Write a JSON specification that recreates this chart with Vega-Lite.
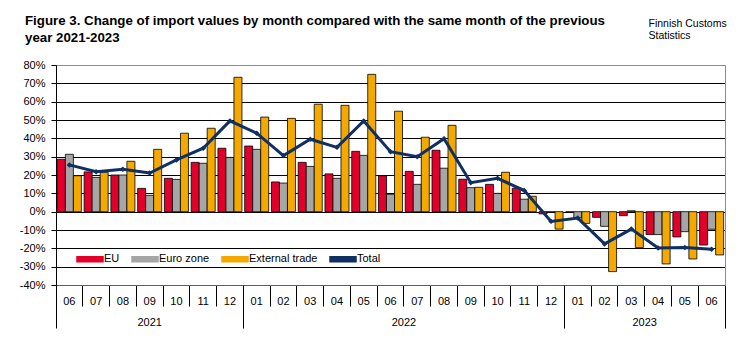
{
  "$schema": "https://vega.github.io/schema/vega-lite/v6.json",
  "width": 669,
  "height": 220,
  "autosize": {"type": "none"},
  "padding": {"left": 56, "top": 65, "right": 31, "bottom": 55},
  "background": "white",
  "title": {
    "text": ["Figure 3. Change of import values by month compared with the same month of the previous", "year 2021-2023"],
    "anchor": "start",
    "frame": "group",
    "dx": -31,
    "dy": 26,
    "offset": 0,
    "font": "Liberation Sans",
    "fontSize": 13.3,
    "fontWeight": "bold",
    "color": "black",
    "lineHeight": 17
  },
  "data": {
    "values": [
      {"m": "2021-06", "EU": 28.6, "Euro zone": 31.3, "External trade": 19.6, "Total": 25.5},
      {"m": "2021-07", "EU": 21.7, "Euro zone": 18.7, "External trade": 21.5, "Total": 21.8},
      {"m": "2021-08", "EU": 20.0, "Euro zone": 20.0, "External trade": 27.5, "Total": 23.1},
      {"m": "2021-09", "EU": 12.7, "Euro zone": 8.9, "External trade": 34.0, "Total": 21.1},
      {"m": "2021-10", "EU": 18.2, "Euro zone": 17.6, "External trade": 42.8, "Total": 28.2},
      {"m": "2021-11", "EU": 26.9, "Euro zone": 26.4, "External trade": 45.5, "Total": 34.6},
      {"m": "2021-12", "EU": 34.6, "Euro zone": 29.6, "External trade": 73.3, "Total": 49.5},
      {"m": "2022-01", "EU": 35.8, "Euro zone": 34.0, "External trade": 51.6, "Total": 42.8},
      {"m": "2022-02", "EU": 16.2, "Euro zone": 15.6, "External trade": 50.9, "Total": 30.6},
      {"m": "2022-03", "EU": 26.9, "Euro zone": 24.7, "External trade": 58.6, "Total": 39.5},
      {"m": "2022-04", "EU": 20.6, "Euro zone": 18.2, "External trade": 58.0, "Total": 35.1},
      {"m": "2022-05", "EU": 32.9, "Euro zone": 30.7, "External trade": 74.9, "Total": 49.5},
      {"m": "2022-06", "EU": 19.6, "Euro zone": 9.5, "External trade": 54.8, "Total": 32.7},
      {"m": "2022-07", "EU": 22.0, "Euro zone": 14.9, "External trade": 40.6, "Total": 30.0},
      {"m": "2022-08", "EU": 33.5, "Euro zone": 23.7, "External trade": 47.1, "Total": 39.8},
      {"m": "2022-09", "EU": 17.7, "Euro zone": 13.1, "External trade": 13.3, "Total": 15.8},
      {"m": "2022-10", "EU": 14.9, "Euro zone": 10.0, "External trade": 21.5, "Total": 18.2},
      {"m": "2022-11", "EU": 12.8, "Euro zone": 6.8, "External trade": 8.4, "Total": 11.5},
      {"m": "2022-12", "EU": -1.2, "Euro zone": -0.4, "External trade": -9.5, "Total": -5.3},
      {"m": "2023-01", "EU": -0.4, "Euro zone": -3.4, "External trade": -6.4, "Total": -3.5},
      {"m": "2023-02", "EU": -3.1, "Euro zone": -8.0, "External trade": -32.7, "Total": -17.6},
      {"m": "2023-03", "EU": -2.2, "Euro zone": 0.5, "External trade": -19.6, "Total": -9.5},
      {"m": "2023-04", "EU": -12.5, "Euro zone": -12.5, "External trade": -28.5, "Total": -19.8},
      {"m": "2023-05", "EU": -13.8, "Euro zone": -10.9, "External trade": -25.8, "Total": -19.5},
      {"m": "2023-06", "EU": -18.2, "Euro zone": -9.6, "External trade": -23.6, "Total": -20.5}
    ]
  },
  "transform": [
    {"fold": ["EU", "Euro zone", "External trade", "Total"], "as": ["s", "v"]}
  ],
  "layer": [
    {
      "transform": [{"filter": "datum.s !== 'Total'"}],
      "mark": {"type": "bar", "stroke": "black", "strokeWidth": 0.8},
      "encoding": {
        "x": {
          "field": "m", "type": "ordinal",
          "scale": {"paddingInner": 0, "paddingOuter": 0},
          "axis": {
            "title": null,
            "labelExpr": "substring(datum.label, 5, 7)",
            "bandPosition": 0,
            "labelAngle": 0,
            "tickSize": 21,
            "tickColor": "black",
            "domainColor": "#606060",
            "labelPadding": -11,
            "labelBaseline": "top",
            "labelFontSize": 11,
            "labelColor": "black",
            "labelOverlap": false,
            "grid": false
          }
        },
        "xOffset": {
          "field": "s", "type": "nominal",
          "scale": {"domain": ["EU", "Euro zone", "External trade"], "paddingOuter": 0.17, "paddingInner": 0}
        },
        "y": {
          "field": "v", "type": "quantitative",
          "scale": {"domain": [-40, 80], "nice": false},
          "axis": {
            "title": null,
            "values": [-40, -30, -20, -10, 0, 10, 20, 30, 40, 50, 60, 70, 80],
            "labelExpr": "datum.value + '%'",
            "grid": true,
            "gridColor": {"condition": {"test": "datum.value === 80", "value": "#8c8c8c"}, "value": "black"},
            "gridWidth": 1,
            "domainColor": "black",
            "tickColor": "black",
            "tickSize": 5,
            "labelPadding": 6,
            "labelFontSize": 11,
            "labelColor": "black"
          }
        },
        "color": {
          "field": "s", "type": "nominal",
          "scale": {"domain": ["EU", "Euro zone", "External trade", "Total"], "range": ["#e2002b", "#a6a6a6", "#f4a900", "#102f62"]},
          "legend": {
            "orient": "none",
            "legendX": 25,
            "legendY": 185,
            "direction": "horizontal",
            "title": null,
            "padding": 0,
            "symbolType": "M-1.6,-0.31H1.6V0.31H-1.6Z",
            "symbolSize": 264,
            "labelFontSize": 11,
            "labelColor": "black",
            "labelOffset": 5,
            "columnPadding": 9,
            "encode": {
              "symbols": {
                "update": {
                  "shape": {"signal": "datum.value === 'Total' ? 'M-1.6,-0.18H1.6V0.18H-1.6Z M0,-0.4L0.3,0L0,0.4L-0.3,0Z' : 'M-1.6,-0.31H1.6V0.31H-1.6Z'"},
                  "fill": {"scale": "color", "field": "value"},
                  "stroke": {"signal": "datum.value === 'Total' ? '#102f62' : 'black'"},
                  "strokeWidth": {"value": 0.7},
                  "opacity": {"value": 1}
                }
              }
            }
          }
        }
      }
    },
    {
      "transform": [{"filter": "datum.s === 'Total'"}],
      "mark": {"type": "line", "strokeWidth": 3},
      "encoding": {
        "x": {
          "field": "m", "type": "ordinal",
          "axis": {
            "title": null,
            "orient": "bottom",
            "domain": false,
            "bandPosition": 0,
            "tickColor": "black",
            "tickSize": {"condition": {"test": "datum.value === '2021-06' || datum.value === '2022-01' || datum.value === '2023-01'", "value": 43}, "value": 0},
            "labelExpr": "datum.value === '2021-09' ? '2021' : datum.value === '2022-07' ? '2022' : datum.value === '2023-04' ? '2023' : ''",
            "labelOffset": {"condition": {"test": "datum.value === '2021-09'", "value": 0}, "value": -13.38},
            "labelPadding": 31,
            "labelBaseline": "top",
            "labelAngle": 0,
            "labelFontSize": 11,
            "labelColor": "black",
            "labelOverlap": false,
            "grid": false
          }
        },
        "y": {
          "field": "v", "type": "quantitative",
          "axis": {
            "orient": "right",
            "title": ["Finnish Customs", "Statistics"],
            "titleAngle": 0,
            "titleX": -77,
            "titleY": -47,
            "titleAlign": "left",
            "titleBaseline": "top",
            "titleFont": "Liberation Sans",
            "titleFontSize": 10.5,
            "titleFontWeight": "normal",
            "titleColor": "black",
            "titleLineHeight": 12,
            "labels": false,
            "ticks": false,
            "grid": false,
            "domainColor": "#8c8c8c"
          }
        },
        "color": {"field": "s", "type": "nominal"}
      }
    },
    {
      "transform": [{"filter": "datum.s === 'Total'"}],
      "mark": {"type": "point", "shape": "diamond", "filled": true, "size": 30, "opacity": 1},
      "encoding": {
        "x": {
          "field": "m", "type": "ordinal",
          "axis": {
            "title": null,
            "orient": "bottom",
            "domain": false,
            "labels": false,
            "bandPosition": 1,
            "tickColor": "black",
            "tickSize": {"condition": {"test": "datum.value === '2023-06'", "value": 43}, "value": 0},
            "grid": false
          }
        },
        "y": {"field": "v", "type": "quantitative", "axis": null},
        "color": {"field": "s", "type": "nominal"}
      }
    }
  ],
  "resolve": {"axis": {"x": "independent", "y": "independent"}},
  "config": {
    "view": {"stroke": null},
    "font": "Liberation Sans"
  }
}
